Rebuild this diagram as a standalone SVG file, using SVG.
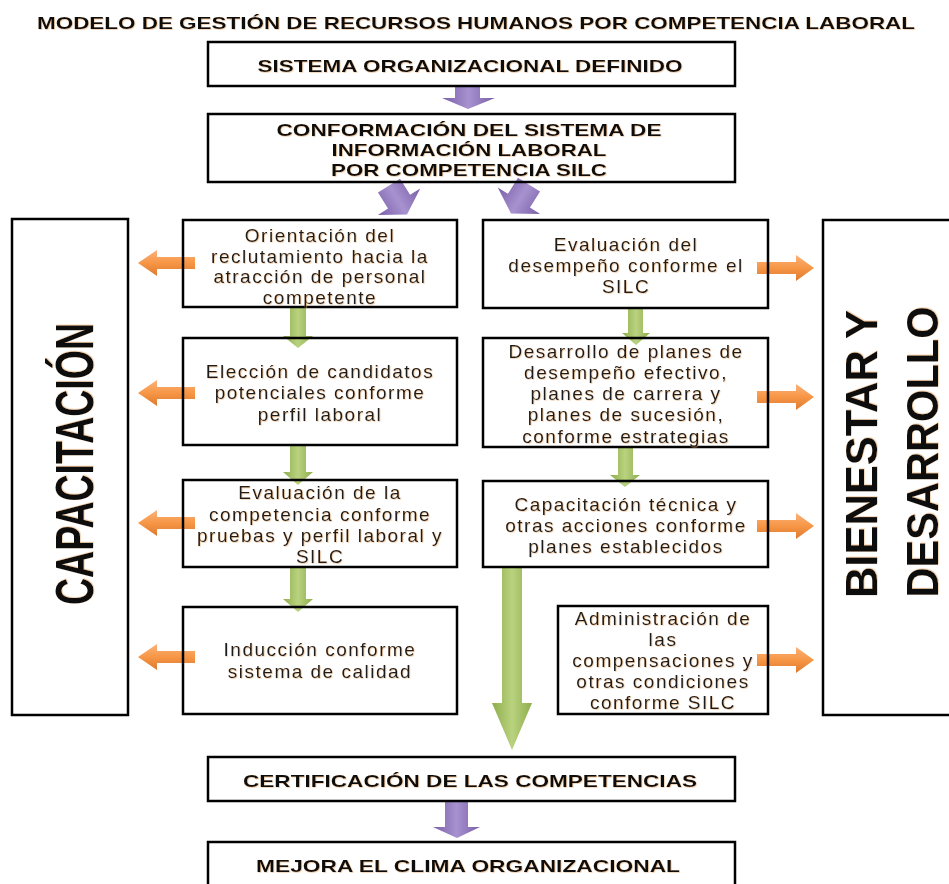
<svg xmlns="http://www.w3.org/2000/svg" width="949" height="884" viewBox="0 0 949 884">
<defs>
<linearGradient id="gPurple" x1="0" y1="0" x2="1" y2="0">
<stop offset="0" stop-color="#7a5ea8"/>
<stop offset="0.5" stop-color="#a792cf"/>
<stop offset="1" stop-color="#7a5ea8"/>
</linearGradient>
<linearGradient id="gGreen" x1="0" y1="0" x2="1" y2="0">
<stop offset="0" stop-color="#8fae4d"/>
<stop offset="0.5" stop-color="#b9d27f"/>
<stop offset="1" stop-color="#8fae4d"/>
</linearGradient>
<linearGradient id="gOrange" x1="0" y1="0" x2="0" y2="1">
<stop offset="0" stop-color="#fbb27a"/>
<stop offset="0.5" stop-color="#f79646"/>
<stop offset="1" stop-color="#dd7a30"/>
</linearGradient>
<filter id="glow" x="-5%" y="-20%" width="110%" height="140%">
<feDropShadow dx="0.7" dy="0.7" stdDeviation="0.5" flood-color="#e0a060" flood-opacity="0.6"/>
</filter>
</defs>
<style>
.box{fill:none;stroke:#000;stroke-width:2.5}
.hd{font-family:"Liberation Sans",Arial,sans-serif;font-weight:bold;font-size:17px;fill:#111;text-anchor:middle;filter:url(#glow)}
.tx{font-family:"Liberation Sans",Arial,sans-serif;font-size:19px;letter-spacing:1.5px;fill:#1b1b1b;text-anchor:middle;filter:url(#glow)}
.side{font-family:"Liberation Sans",Arial,sans-serif;font-weight:bold;fill:#111;text-anchor:middle;filter:url(#glow)}
.pu{fill:url(#gPurple)}
.gr{fill:url(#gGreen)}
.or{fill:url(#gOrange)}
</style>
<rect x="0" y="0" width="949" height="884" fill="#fff"/>

<text id="title" class="hd" x="476" y="29" font-size="19" textLength="878" lengthAdjust="spacingAndGlyphs">MODELO DE GESTIÓN DE RECURSOS HUMANOS POR COMPETENCIA LABORAL</text>

<g id="connectors">
<polygon class="pu" points="455,85 480,85 480,98 495,98 468,109 442,98 455,98"/>
<g transform="translate(398,200) rotate(-32)"><polygon class="pu" points="-13,-17 13,-17 13,2 25,2 0,17 -25,2 -13,2"/></g>
<g transform="translate(520,199) rotate(32)"><polygon class="pu" points="-13,-17 13,-17 13,2 25,2 0,17 -25,2 -13,2"/></g>
<polygon class="pu" points="445,801 468,801 468,827 480,827 457,838 433,827 445,827"/>
<polygon class="gr" points="290,307 306,307 306,336 313,336 298,348 283,336 290,336"/>
<polygon class="gr" points="290,445 306,445 306,472 313,472 298,485 283,472 290,472"/>
<polygon class="gr" points="290,567 306,567 306,599 313,599 298,612 283,599 290,599"/>
<polygon class="gr" points="628,308 643,308 643,333 650,333 636,345 622,333 628,333"/>
<polygon class="gr" points="618,447 633,447 633,475 640,475 625,487 610,475 618,475"/>
<polygon class="gr" points="502,567 522,567 522,703 532,703 512,750 492,703 502,703"/>
<polygon class="or" points="138,263 157,250 157,257 195,257 195,269 157,269 157,276"/>
<polygon class="or" points="138,393 157,380 157,387 195,387 195,399 157,399 157,406"/>
<polygon class="or" points="138,523 157,510 157,517 195,517 195,529 157,529 157,536"/>
<polygon class="or" points="138,657 157,644 157,651 195,651 195,663 157,663 157,670"/>
<polygon class="or" points="814,268 796,255 796,262 757,262 757,274 796,274 796,281"/>
<polygon class="or" points="814,397 796,384 796,391 757,391 757,403 796,403 796,410"/>
<polygon class="or" points="814,526 796,513 796,520 757,520 757,532 796,532 796,539"/>
<polygon class="or" points="814,660 796,647 796,654 757,654 757,666 796,666 796,673"/>
</g>

<g id="sistema">
<rect class="box" x="208" y="42" width="527" height="44"/>
<text class="hd" x="470" y="72" textLength="425" lengthAdjust="spacingAndGlyphs">SISTEMA ORGANIZACIONAL DEFINIDO</text>
</g>

<g id="conformacion">
<rect class="box" x="208" y="114" width="527" height="68"/>
<text class="hd" x="469" y="136" textLength="385" lengthAdjust="spacingAndGlyphs">CONFORMACIÓN DEL SISTEMA DE</text>
<text class="hd" x="469" y="156" textLength="275" lengthAdjust="spacingAndGlyphs">INFORMACIÓN LABORAL</text>
<text class="hd" x="469" y="176" textLength="276" lengthAdjust="spacingAndGlyphs">POR COMPETENCIA SILC</text>
</g>

<g id="capacitacion">
<rect class="box" x="12" y="219" width="116" height="496"/>
<text class="side" transform="translate(93,464) rotate(-90)" font-size="53" textLength="282" lengthAdjust="spacingAndGlyphs">CAPACITACIÓN</text>
</g>

<g id="bienestar">
<rect class="box" x="823" y="220" width="140" height="495"/>
<text class="side" transform="translate(877,454) rotate(-90)" font-size="44" textLength="288" lengthAdjust="spacingAndGlyphs">BIENESTAR Y</text>
<text class="side" transform="translate(938,452) rotate(-90)" font-size="44" textLength="291" lengthAdjust="spacingAndGlyphs">DESARROLLO</text>
</g>

<g id="orientacion">
<rect class="box" x="183" y="220" width="274" height="87"/>
<text class="tx" x="320" y="242">Orientación del</text>
<text class="tx" x="320" y="263">reclutamiento hacia la</text>
<text class="tx" x="320" y="283">atracción de personal</text>
<text class="tx" x="320" y="304">competente</text>
</g>

<g id="eleccion">
<rect class="box" x="183" y="338" width="274" height="107"/>
<text class="tx" x="320" y="378">Elección de candidatos</text>
<text class="tx" x="320" y="399">potenciales conforme</text>
<text class="tx" x="320" y="421">perfil laboral</text>
</g>

<g id="evaluacion-competencia">
<rect class="box" x="183" y="480" width="274" height="87"/>
<text class="tx" x="320" y="499">Evaluación de la</text>
<text class="tx" x="320" y="521">competencia conforme</text>
<text class="tx" x="320" y="542">pruebas y perfil laboral y</text>
<text class="tx" x="320" y="563">SILC</text>
</g>

<g id="induccion">
<rect class="box" x="183" y="607" width="274" height="107"/>
<text class="tx" x="320" y="656">Inducción conforme</text>
<text class="tx" x="320" y="678">sistema de calidad</text>
</g>

<g id="evaluacion-desempeno">
<rect class="box" x="483" y="220" width="285" height="88"/>
<text class="tx" x="626" y="251">Evaluación del</text>
<text class="tx" x="626" y="272">desempeño conforme el</text>
<text class="tx" x="626" y="293">SILC</text>
</g>

<g id="desarrollo">
<rect class="box" x="483" y="338" width="285" height="109"/>
<text class="tx" x="626" y="358">Desarrollo de planes de</text>
<text class="tx" x="626" y="379">desempeño efectivo,</text>
<text class="tx" x="626" y="400">planes de carrera y</text>
<text class="tx" x="626" y="421">planes de sucesión,</text>
<text class="tx" x="626" y="443">conforme estrategias</text>
</g>

<g id="capacitacion-tecnica">
<rect class="box" x="483" y="481" width="285" height="86"/>
<text class="tx" x="626" y="511">Capacitación técnica y</text>
<text class="tx" x="626" y="532">otras acciones conforme</text>
<text class="tx" x="626" y="553">planes establecidos</text>
</g>

<g id="administracion">
<rect class="box" x="558" y="606" width="210" height="108"/>
<text class="tx" x="663" y="625">Administración de</text>
<text class="tx" x="663" y="646">las</text>
<text class="tx" x="663" y="667">compensaciones y</text>
<text class="tx" x="663" y="688">otras condiciones</text>
<text class="tx" x="663" y="709">conforme SILC</text>
</g>

<g id="certificacion">
<rect class="box" x="208" y="757" width="527" height="44"/>
<text class="hd" x="470" y="787" textLength="454" lengthAdjust="spacingAndGlyphs">CERTIFICACIÓN DE LAS COMPETENCIAS</text>
</g>

<g id="mejora">
<rect class="box" x="208" y="842" width="527" height="60"/>
<text class="hd" x="468" y="872" textLength="424" lengthAdjust="spacingAndGlyphs">MEJORA EL CLIMA ORGANIZACIONAL</text>
</g>
</svg>
